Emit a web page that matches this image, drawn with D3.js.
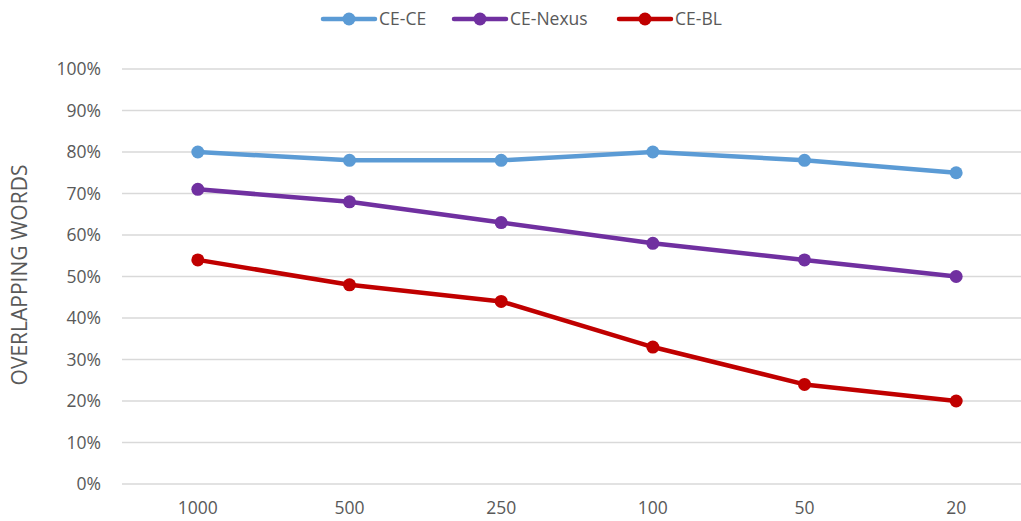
<!DOCTYPE html>
<html><head><meta charset="utf-8">
<script src="https://cdn.jsdelivr.net/npm/d3@7"></script>
<style>body{margin:0;background:#fff}svg{display:block;font-family:"Open Sans","Liberation Sans",sans-serif}</style>
</head><body><svg id="c" width="1021" height="521"></svg>
<script>
const categories = ["1000","500","250","100","50","20"];
const seriesNames = ["CE-CE","CE-Nexus","CE-BL"];
const ceCe = [80,78,78,80,78,75];
const ceNexus = [71,68,63,58,54,50];
const ceBl = [54,48,44,33,24,20];
const yTicks = [0,10,20,30,40,50,60,70,80,90,100];
const colors = ["#5B9BD5","#7030A0","#C00000"];
const series = [ceCe, ceNexus, ceBl];

const svg = d3.select("#c");
const x = d3.scalePoint().domain(categories).range([122,1032]).padding(0.5);
const y = d3.scaleLinear().domain([0,100]).range([484,69]);

svg.append("g").selectAll("line").data(yTicks).join("line")
  .attr("x1",122).attr("x2",1021).attr("y1",d=>y(d)).attr("y2",d=>y(d))
  .attr("stroke","#d9d9d9").attr("stroke-width",1.3);

svg.append("g").selectAll("text").data(yTicks).join("text")
  .attr("x",101).attr("y",d=>y(d)).attr("dy","0.35em").attr("text-anchor","end")
  .attr("fill","#595959").attr("font-size",17.5).text(d=>d+"%");

svg.append("g").selectAll("text").data(categories).join("text")
  .attr("x",d=>x(d)).attr("y",508).attr("dy","0.35em").attr("text-anchor","middle")
  .attr("fill","#595959").attr("font-size",17.5).text(d=>d);

svg.append("text").attr("transform","translate(20,275) rotate(-90)")
  .attr("text-anchor","middle").attr("dy","0.35em").attr("fill","#595959")
  .attr("font-size",21).text("OVERLAPPING WORDS");

const line = d3.line().x((d,i)=>x(categories[i])).y(d=>y(d));
series.forEach((s,k)=>{
  svg.append("path").datum(s).attr("d",line).attr("fill","none")
    .attr("stroke",colors[k]).attr("stroke-width",4.5).attr("stroke-linejoin","round");
  svg.append("g").selectAll("circle").data(s).join("circle")
    .attr("cx",(d,i)=>x(categories[i])).attr("cy",d=>y(d)).attr("r",6.5).attr("fill",colors[k]);
});

const legX = [323,454,619];
seriesNames.forEach((n,k)=>{
  const g = svg.append("g").attr("transform",`translate(${legX[k]},19)`);
  g.append("line").attr("x1",0).attr("x2",52).attr("stroke",colors[k]).attr("stroke-width",4.5).attr("stroke-linecap","round");
  g.append("circle").attr("cx",26).attr("r",6.5).attr("fill",colors[k]);
  g.append("text").attr("x",56).attr("dy","0.35em").attr("fill","#595959").attr("font-size",17.5).text(n);
});
</script></body></html>
